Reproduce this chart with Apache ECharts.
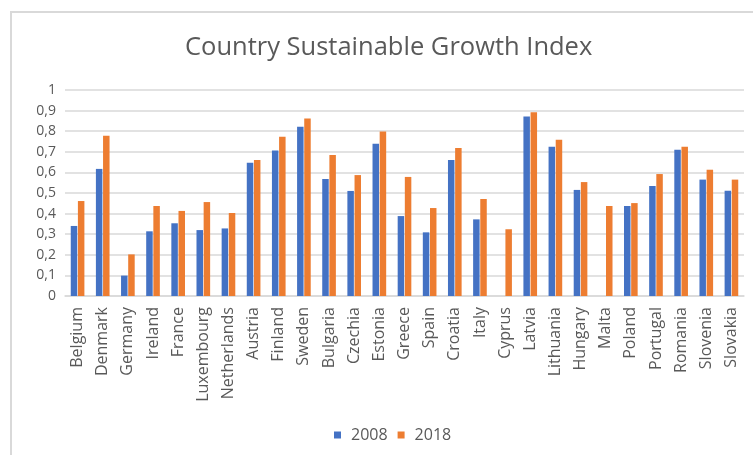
<!DOCTYPE html>
<html>
<head>
<meta charset="utf-8">
<script src="https://cdn.jsdelivr.net/npm/echarts@6/dist/echarts.min.js"></script>
<style>html,body{margin:0;padding:0;background:#fff}#c{width:753px;height:455px}</style>
</head>
<body>
<div id="c"></div>
<script>
const categories = ['Belgium','Denmark','Germany','Ireland','France','Luxembourg','Netherlands','Austria','Finland','Sweden','Bulgaria','Czechia','Estonia','Greece','Spain','Croatia','Italy','Cyprus','Latvia','Lithuania','Hungary','Malta','Poland','Portugal','Romania','Slovenia','Slovakia'];
const values2008 = [0.34,0.617,0.099,0.314,0.353,0.32,0.328,0.647,0.706,0.822,0.568,0.51,0.739,0.388,0.309,0.66,0.372,null,0.871,0.725,0.515,null,0.437,0.534,0.71,0.565,0.511];
const values2018 = [0.461,0.778,0.202,0.437,0.413,0.456,0.403,0.66,0.773,0.862,0.684,0.587,0.798,0.578,0.427,0.718,0.471,0.324,0.892,0.759,0.553,0.437,0.451,0.592,0.725,0.613,0.565];
const seriesNames = ['2008','2018'];

const chart = echarts.init(document.getElementById('c'));
const font = 'Open Sans';
chart.setOption({
  animation: false,
  backgroundColor: '#fff',
  graphic: [{type:'rect', shape:{x:11,y:12,width:800,height:500}, style:{fill:'none', stroke:'#d9d9d9', lineWidth:2}, silent:true}],
  title: {text:'Country Sustainable Growth Index', left:180, top:30, textStyle:{fontFamily:font, fontSize:25.5, fontWeight:'normal', color:'#595959'}},
  legend: {data: seriesNames, top:422, left:329, itemWidth:7, itemHeight:7, itemGap:10, icon:'rect', textStyle:{fontFamily:font, fontSize:16, color:'#595959', padding:[0,0,0,5]}},
  grid: {left:65, right:9, top:90, bottom:159, containLabel:false},
  xAxis: {type:'category', data:categories, axisTick:{show:false}, axisLine:{show:true, lineStyle:{color:'#d9d9d9', width:1.5}},
    axisLabel:{interval:0, rotate:90, margin:11, fontFamily:font, fontSize:16, color:'#595959'}},
  yAxis: {type:'value', min:0, max:1, interval:0.1, axisLine:{show:false}, axisTick:{show:false},
    splitLine:{lineStyle:{color:'#d9d9d9', width:1.5}},
    axisLabel:{margin:9, fontFamily:font, fontSize:14, color:'#595959', formatter: v => String(Math.round(v*10)/10).replace('.', ',')}},
  series: [
    {name:seriesNames[0], type:'bar', data:values2008, barWidth:6.5, barGap:'10%', itemStyle:{color:'#4472C4'}},
    {name:seriesNames[1], type:'bar', data:values2018, barWidth:6.5, barGap:'10%', itemStyle:{color:'#ED7D31'}}
  ]
});
</script>
</body>
</html>
